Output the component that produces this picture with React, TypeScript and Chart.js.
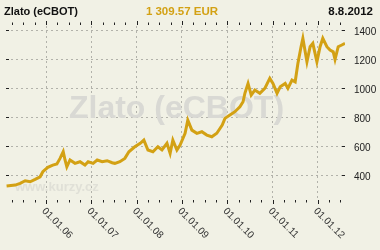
import React, { useEffect, useRef } from "react";
import { Chart, registerables } from "chart.js";

Chart.register(...registerables);

// decimal-year positions of the read points
const dates: number[] = [
  2005.13, 2005.32, 2005.43, 2005.54, 2005.65, 2005.76, 2005.87, 2005.93,
  2006.04, 2006.15, 2006.24, 2006.31, 2006.38, 2006.42, 2006.46, 2006.53,
  2006.64, 2006.75, 2006.86, 2006.93, 2007.04, 2007.13, 2007.24, 2007.35,
  2007.46, 2007.52, 2007.63, 2007.74, 2007.83, 2007.96, 2008.08, 2008.16,
  2008.25, 2008.36, 2008.47, 2008.56, 2008.67, 2008.74, 2008.8, 2008.89,
  2008.96, 2009.07, 2009.13, 2009.22, 2009.33, 2009.44, 2009.55, 2009.66,
  2009.77, 2009.89, 2009.95, 2010.06, 2010.17, 2010.28, 2010.35, 2010.39,
  2010.46, 2010.53, 2010.61, 2010.72, 2010.83, 2010.94, 2011.01, 2011.1,
  2011.17, 2011.28, 2011.34, 2011.43, 2011.5, 2011.56, 2011.63, 2011.67,
  2011.76, 2011.83, 2011.89, 2011.98, 2012.05, 2012.11, 2012.2, 2012.27,
  2012.34, 2012.38, 2012.45, 2012.53, 2012.6,
];

// gold price in EUR
const prices: number[] = [
  326, 333, 345, 363, 356, 372, 390, 425,
  455, 471, 478, 517, 563, 506, 459, 506,
  483, 494, 471, 494, 483, 506, 494, 501,
  487, 483, 494, 517, 563, 597, 621, 643,
  575, 563, 597, 575, 621, 552, 643, 575,
  609, 690, 781, 712, 690, 701, 678, 666,
  690, 747, 793, 816, 839, 873, 908, 966,
  1034, 954, 988, 966, 1000, 1069, 1034, 966,
  1011, 1034, 1000, 1057, 1045, 1172, 1287, 1345,
  1183, 1287, 1310, 1183, 1287, 1345, 1287, 1264,
  1252, 1200, 1287, 1299, 1310,
];

const yTicks: number[] = [400, 600, 800, 1000, 1200, 1400];
const yearTicks: number[] = [2006, 2007, 2008, 2009, 2010, 2011, 2012];
const yearLabels: string[] = ["01.01.06", "01.01.07", "01.01.08", "01.01.09", "01.01.10", "01.01.11", "01.01.12"];
const quarterTicks: number[] = [
  2005.25, 2005.5, 2005.75, 2006, 2006.25, 2006.5, 2006.75, 2007, 2007.25, 2007.5, 2007.75,
  2008, 2008.25, 2008.5, 2008.75, 2009, 2009.25, 2009.5, 2009.75, 2010, 2010.25, 2010.5,
  2010.75, 2011, 2011.25, 2011.5, 2011.75, 2012, 2012.25, 2012.5,
];

const titleText = "Zlato (eCBOT)";
const priceText = "1 309.57 EUR";
const dateText = "8.8.2012";
const watermarkText = "Zlato (eCBOT)";
const siteText = "www.kurzy.cz";

const FONT = '"Liberation Sans", Arial, sans-serif';
const GOLD = "#D3A114";
const BG = "#F1F1E5";

export default function App() {
  const ref = useRef<HTMLCanvasElement | null>(null);

  useEffect(() => {
    if (!ref.current) return;
    const decor = {
      id: "decor",
      beforeDraw(chart: any) {
        const c = chart.ctx;
        c.save();
        c.fillStyle = BG;
        c.fillRect(0, 0, chart.width, chart.height);
        c.restore();
      },
      beforeDatasetsDraw(chart: any) {
        const c = chart.ctx;
        const a = chart.chartArea;
        c.save();
        c.fillStyle = "#D9D9D4";
        c.font = `bold 32px ${FONT}`;
        c.textAlign = "center";
        c.textBaseline = "alphabetic";
        c.fillText(watermarkText, (a.left + a.right) / 2 + 1, 118);
        c.fillStyle = "#E0E0D7";
        c.font = `bold 13px ${FONT}`;
        c.textAlign = "left";
        c.fillText(siteText, 15, 191);
        c.restore();
      },
      afterDraw(chart: any) {
        const c = chart.ctx;
        const a = chart.chartArea;
        const xs = chart.scales.x;
        const ys = chart.scales.y;
        c.save();
        // header
        c.textBaseline = "alphabetic";
        c.font = `bold 11px ${FONT}`;
        c.fillStyle = "#111";
        c.textAlign = "left";
        c.fillText(titleText, 4, 15);
        c.font = `bold 11.5px ${FONT}`;
        c.textAlign = "right";
        c.fillText(dateText, 373, 15);
        c.fillStyle = GOLD;
        c.textAlign = "center";
        c.fillText(priceText, 182, 15);

        // tick marks
        c.strokeStyle = "#222";
        c.lineWidth = 1;
        c.beginPath();
        quarterTicks.forEach((q) => {
          const px = Math.round(xs.getPixelForValue(q)) + 0.5;
          const major = Math.abs(q - Math.round(q)) < 1e-6;
          c.moveTo(px, major ? a.top - 5 : a.top - 3.5);
          c.lineTo(px, a.top - 1);
          c.moveTo(px, a.bottom + 1);
          c.lineTo(px, major ? a.bottom + 5 : a.bottom + 3.5);
        });
        yTicks.forEach((v) => {
          const py = Math.round(ys.getPixelForValue(v)) + 0.5;
          c.moveTo(a.left, py);
          c.lineTo(a.left + 3, py);
          c.moveTo(a.right - 3, py);
          c.lineTo(a.right, py);
        });
        c.stroke();

        // y labels
        c.fillStyle = "#222";
        c.font = `10px ${FONT}`;
        c.textAlign = "left";
        c.textBaseline = "middle";
        yTicks.forEach((v) => {
          c.fillText(String(v), a.right + 9, ys.getPixelForValue(v) + 1.5);
        });

        // x labels, rotated clockwise
        c.font = `10px ${FONT}`;
        c.fillStyle = "#333";
        c.textBaseline = "top";
        yearTicks.forEach((yv, i) => {
          const px = xs.getPixelForValue(yv);
          c.save();
          c.translate(px + 1, a.bottom + 7);
          c.rotate(Math.PI / 4);
          c.fillText(yearLabels[i], 0, 0);
          c.restore();
        });
        c.restore();
      },
    };

    const chart = new Chart(ref.current, {
      type: "line",
      data: {
        datasets: [
          {
            data: dates.map((d, i) => ({ x: d, y: prices[i] })),
            borderColor: GOLD,
            borderWidth: 3,
            borderJoinStyle: "miter",
            pointRadius: 0,
            tension: 0,
            fill: false,
          },
        ],
      },
      options: {
        responsive: false,
        maintainAspectRatio: false,
        animation: false,
        events: [],
        layout: { padding: { left: 6, top: 26, right: 35, bottom: 51 } },
        plugins: { legend: { display: false }, tooltip: { enabled: false }, title: { display: false } },
        scales: {
          x: {
            type: "linear",
            min: 2005.117,
            max: 2012.6,
            afterBuildTicks: (s: any) => {
              s.ticks = yearTicks.map((v) => ({ value: v }));
            },
            ticks: { display: false },
            grid: { display: true, drawTicks: false, color: "#B2B2AA", lineWidth: 1 },
            border: { display: false, dash: [2, 3] },
          },
          y: {
            type: "linear",
            min: 237,
            max: 1430,
            afterBuildTicks: (s: any) => {
              s.ticks = yTicks.map((v) => ({ value: v }));
            },
            ticks: { display: false },
            grid: { display: true, drawTicks: false, color: "#B2B2AA", lineWidth: 1 },
            border: { display: false, dash: [2, 3] },
          },
        },
      },
      plugins: [decor],
    });
    return () => chart.destroy();
  }, []);

  return (
    <div style={{ position: "fixed", left: 0, top: 0, width: 380, height: 250, background: BG }}>
      <canvas ref={ref} width={380} height={250} style={{ display: "block", width: 380, height: 250 }} />
    </div>
  );
}
